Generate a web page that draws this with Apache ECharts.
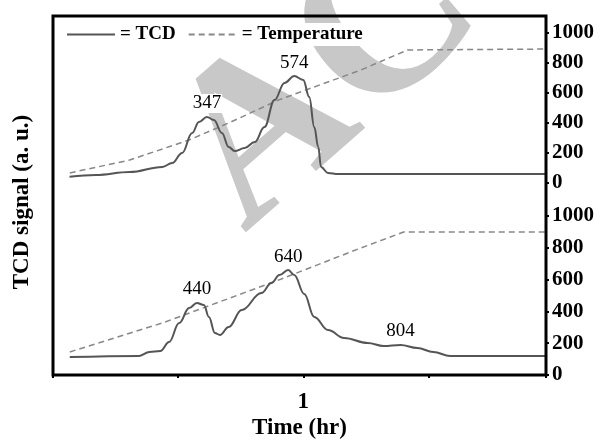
<!DOCTYPE html>
<html>
<head>
<meta charset="utf-8">
<script src="https://cdn.jsdelivr.net/npm/echarts@6/dist/echarts.min.js"></script>
<style>
  html, body { margin: 0; padding: 0; background: #fff; }
  #chart { width: 601px; height: 441px; }
</style>
</head>
<body>
<div id="chart"></div>
<script>
// time axis (hr)
const timeTicks = [0.5, 1, 1.5];

// upper panel: TCD trace (a.u.) and temperature (°C)
const tcdUpperTime = [0.066, 0.171, 0.306, 0.437, 0.476, 0.516, 0.556, 0.583, 0.615, 0.643, 0.675, 0.702, 0.726, 0.766, 0.806, 0.845, 0.885, 0.925, 0.964, 1.0, 1.024, 1.044, 1.06, 1.071, 1.099, 1.139, 1.968];
const tcdUpper = [4.2, 5.3, 7.3, 10.7, 13.3, 20, 33.3, 40.7, 44, 42, 33.3, 24, 21.3, 23.3, 27.3, 37.3, 55.3, 66.7, 71.3, 68.7, 57.3, 37.3, 24, 10.7, 6.7, 6, 6];
const tempUpperTime = [0.067, 0.306, 0.544, 0.702, 0.901, 1.032, 1.23, 1.417, 1.968];
const tempUpper = [67, 153, 287, 400, 553, 633, 753, 887, 893];
const peakUpperIdx = [8, 18];
const peakUpperText = ['347', '574'];

// lower panel
const tcdLowerTime = [0.067, 0.345, 0.385, 0.429, 0.464, 0.504, 0.544, 0.575, 0.603, 0.623, 0.647, 0.667, 0.702, 0.754, 0.833, 0.873, 0.905, 0.94, 0.964, 1.004, 1.044, 1.099, 1.163, 1.258, 1.321, 1.389, 1.456, 1.52, 1.587, 1.968];
const tcdLower = [11.3, 12, 14.5, 15.1, 20.8, 32.7, 42.1, 45.3, 44, 36.5, 26.4, 25.2, 30.2, 40.9, 51.6, 57.9, 62.9, 66, 62.9, 51, 36.5, 28.3, 23.3, 20.1, 18.2, 18.9, 17, 14.5, 11.9, 11.9];
const tempLowerTime = [0.067, 0.437, 0.901, 1.23, 1.401, 1.968];
const tempLower = [145, 327, 597, 799, 899, 899];
const peakLowerIdx = [7, 17, 25];
const peakLowerText = ['440', '640', '804'];

const tempTicks = [0, 200, 400, 600, 800, 1000];

const zip = (a, b) => a.map((v, i) => [v, b[i]]);
const serif = '"Liberation Serif", "DejaVu Serif", serif';

const chart = echarts.init(document.getElementById('chart'));

const peaks = (times, vals, idx, text) => idx.map((k, i) => ({
  coord: [times[k], vals[k]],
  value: text[i]
}));

const markCfg = (data) => ({
  symbol: 'circle',
  symbolSize: 0,
  label: {
    show: true, position: 'top', distance: 4,
    formatter: p => p.value,
    fontFamily: serif, fontSize: 19, color: '#000',
    backgroundColor: '#fff', padding: [0, 1]
  },
  data: data
});

const tempAxis = (gridIndex) => ({
  type: 'value', gridIndex: gridIndex, position: 'right',
  min: 0, max: 1000, interval: 200,
  axisLine: { show: false },
  axisTick: { show: true, length: 3, lineStyle: { color: '#000', width: 2 } },
  splitLine: { show: false },
  axisLabel: {
    margin: 6, color: '#000', fontFamily: serif, fontSize: 21, fontWeight: 'bold',
    formatter: v => tempTicks.includes(v) ? String(v) : ''
  }
});

const tcdStyle = { color: '#555', width: 2 };
const tempStyle = { color: '#888', width: 1.5, type: [6, 4] };

chart.setOption({
  animation: false,
  grid: [
    { left: 53, right: 55, top: 33, height: 150, outerBoundsMode: 'none' },
    { left: 53, right: 55, top: 216, bottom: 66, outerBoundsMode: 'none' }
  ],
  legend: {
    left: 62, top: 23, z: 10,
    backgroundColor: '#fff',
    padding: [2, 4],
    itemWidth: 48, itemHeight: 10, itemGap: 12,
    itemStyle: { color: 'transparent', borderColor: 'transparent', opacity: 0 },
    data: ['= TCD', '= Temperature'],
    textStyle: { fontFamily: serif, fontSize: 19, fontWeight: 'bold', color: '#000' }
  },
  xAxis: [
    { type: 'value', gridIndex: 0, min: 0, max: 1.97, show: false },
    {
      type: 'value', gridIndex: 1, min: 0, max: 1.97, interval: 0.5,
      axisLine: { show: false },
      axisTick: { show: true, length: 3, lineStyle: { color: '#000', width: 2 } },
      splitLine: { show: false },
      axisLabel: {
        margin: 16, color: '#000', fontFamily: serif, fontSize: 23, fontWeight: 'bold',
        formatter: v => timeTicks.includes(v) && v === 1 ? '1' : ''
      },
      name: 'Time (hr)', nameLocation: 'middle', nameGap: 42,
      nameTextStyle: { fontFamily: serif, fontSize: 23, fontWeight: 'bold', color: '#000' }
    }
  ],
  yAxis: [
    { type: 'value', gridIndex: 0, min: 0, max: 100, show: false },
    tempAxis(0),
    { type: 'value', gridIndex: 1, min: 0, max: 100, show: false },
    tempAxis(1)
  ],
  series: [
    {
      name: '= TCD', type: 'line', xAxisIndex: 0, yAxisIndex: 0,
      data: zip(tcdUpperTime, tcdUpper), symbol: 'none',
      smooth: 0.4, smoothMonotone: 'x', lineStyle: tcdStyle, itemStyle: { color: '#555' },
      markPoint: markCfg(peaks(tcdUpperTime, tcdUpper, peakUpperIdx, peakUpperText)),
      z: 3
    },
    {
      name: '= Temperature', type: 'line', xAxisIndex: 0, yAxisIndex: 1,
      data: zip(tempUpperTime, tempUpper), symbol: 'none',
      lineStyle: tempStyle, itemStyle: { color: '#888' }, z: 2
    },
    {
      name: '= TCD', type: 'line', xAxisIndex: 1, yAxisIndex: 2,
      data: zip(tcdLowerTime, tcdLower), symbol: 'none',
      smooth: 0.4, smoothMonotone: 'x', lineStyle: tcdStyle, itemStyle: { color: '#555' },
      markPoint: markCfg(peaks(tcdLowerTime, tcdLower, peakLowerIdx, peakLowerText)),
      z: 3
    },
    {
      name: '= Temperature', type: 'line', xAxisIndex: 1, yAxisIndex: 3,
      data: zip(tempLowerTime, tempLower), symbol: 'none',
      lineStyle: tempStyle, itemStyle: { color: '#888' }, z: 2
    }
  ],
  graphic: [
    {
      // faint watermark behind the plot
      type: 'text', z: -10, x: 206, y: 190, rotation: 0.72,
      style: {
        text: 'ACCEPTED MANUSCRIPT', align: 'left', verticalAlign: 'middle',
        font: 'bold 225px ' + serif, fill: '#c8c8c8'
      }
    },
    {
      type: 'rect', z: 100,
      shape: { x: 53, y: 16, width: 493, height: 359 },
      style: { fill: 'none', stroke: '#000', lineWidth: 3 }
    },
    {
      type: 'text', z: 100, x: 22, y: 202, rotation: Math.PI / 2,
      style: {
        text: 'TCD signal (a. u.)', align: 'center', verticalAlign: 'middle',
        font: 'bold 23px ' + serif, fill: '#000'
      }
    }
  ]
});

window.addEventListener('resize', () => chart.resize());
</script>
</body>
</html>
